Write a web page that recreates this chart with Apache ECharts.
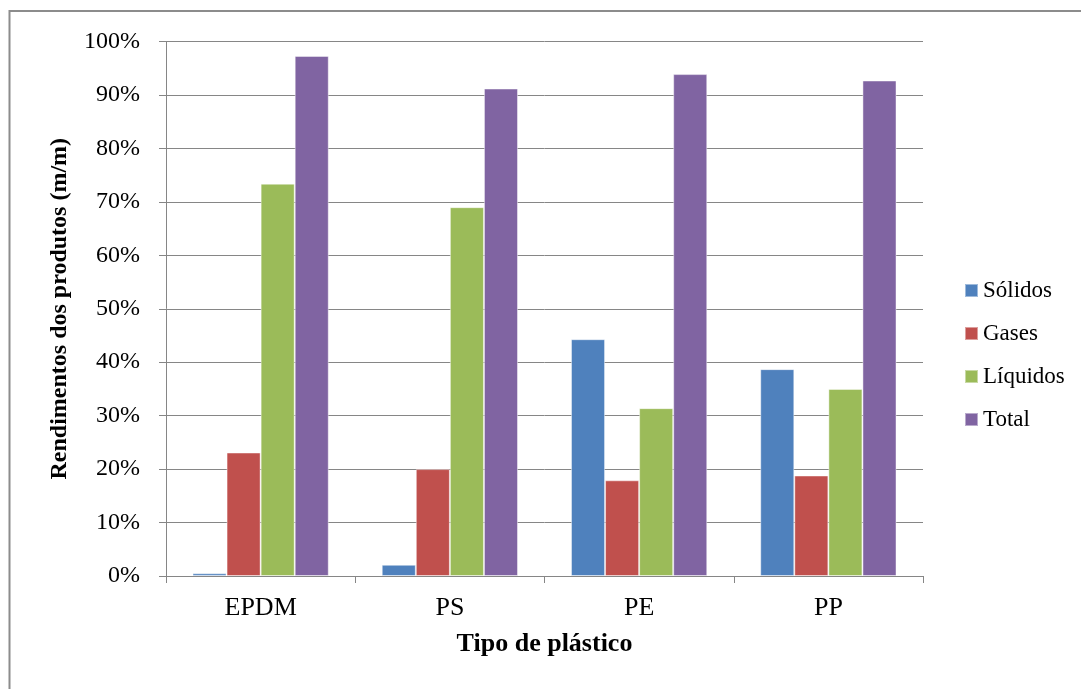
<!DOCTYPE html>
<html>
<head>
<meta charset="utf-8">
<title>Rendimentos dos produtos por tipo de plástico</title>
<script src="https://cdn.jsdelivr.net/npm/echarts@6/dist/echarts.min.js"></script>
<style>
  html, body { margin: 0; padding: 0; background: #ffffff; }
  #chart { width: 1081px; height: 689px; }
</style>
</head>
<body>
<div id="chart"></div>
<script>
// Plastic types on the category axis
const categories = ['EPDM', 'PS', 'PE', 'PP'];

// Product yields (% m/m) per plastic type
const solidos  = [0.5, 2.1, 44.3, 38.7];
const gases    = [23.1, 20.0, 17.9, 18.8];
const liquidos = [73.4, 69.0, 31.4, 35.0];
const total    = [97.3, 91.2, 93.9, 92.7];

// Value axis ticks
const yMin = 0;
const yMax = 100;
const yStep = 10;

const FONT = "'Liberation Serif', 'Times New Roman', serif";
const GRID_GRAY = '#868686';

const chart = echarts.init(document.getElementById('chart'), null, { renderer: 'canvas' });

function barSeries(name, data, color) {
  return {
    name: name,
    type: 'bar',
    data: data,
    barGap: '0%',
    barCategoryGap: '28%',
    itemStyle: {
      color: color,
      borderColor: 'rgba(255,255,255,0.45)',
      borderWidth: 1
    },
    emphasis: { disabled: true }
  };
}

chart.setOption({
  animation: false,
  backgroundColor: '#ffffff',
  textStyle: { fontFamily: FONT },
  graphic: [{
    type: 'rect',
    shape: { x: 9.5, y: 11, width: 1200, height: 800 },
    style: { fill: 'none', stroke: '#8c8c8c', lineWidth: 2 },
    silent: true,
    z: -1
  }],
  grid: {
    left: 166,
    right: 158,
    top: 41.5,
    bottom: 113,
    containLabel: false
  },
  legend: {
    orient: 'vertical',
    left: 964,
    top: 279,
    padding: 0,
    itemWidth: 13,
    itemHeight: 13,
    itemGap: 20,
    icon: 'rect',
    textStyle: { fontFamily: FONT, fontSize: 23, color: '#000', lineHeight: 22 },
    data: ['Sólidos', 'Gases', 'Líquidos', 'Total']
  },
  xAxis: {
    type: 'category',
    data: categories,
    name: 'Tipo de plástico',
    nameLocation: 'middle',
    nameGap: 55,
    nameTextStyle: { fontFamily: FONT, fontSize: 26, fontWeight: 'bold', color: '#000' },
    axisLine: { lineStyle: { color: GRID_GRAY, width: 1 } },
    axisTick: { show: true, length: 7, lineStyle: { color: GRID_GRAY } },
    axisLabel: { fontFamily: FONT, fontSize: 26, color: '#000', margin: 19 }
  },
  yAxis: {
    type: 'value',
    min: yMin,
    max: yMax,
    interval: yStep,
    name: 'Rendimentos dos produtos (m/m)',
    nameLocation: 'middle',
    nameGap: 94,
    nameTextStyle: { fontFamily: FONT, fontSize: 24, fontWeight: 'bold', color: '#000' },
    axisLine: { show: true, lineStyle: { color: GRID_GRAY, width: 1 } },
    axisTick: { show: true, length: 7, lineStyle: { color: GRID_GRAY } },
    axisLabel: { fontFamily: FONT, fontSize: 24, color: '#000', margin: 26, formatter: '{value}%' },
    splitLine: { show: true, lineStyle: { color: GRID_GRAY, width: 1 } }
  },
  series: [
    barSeries('Sólidos', solidos, '#4F81BD'),
    barSeries('Gases', gases, '#C0504D'),
    barSeries('Líquidos', liquidos, '#9BBB59'),
    barSeries('Total', total, '#8064A2')
  ]
});
</script>
</body>
</html>
